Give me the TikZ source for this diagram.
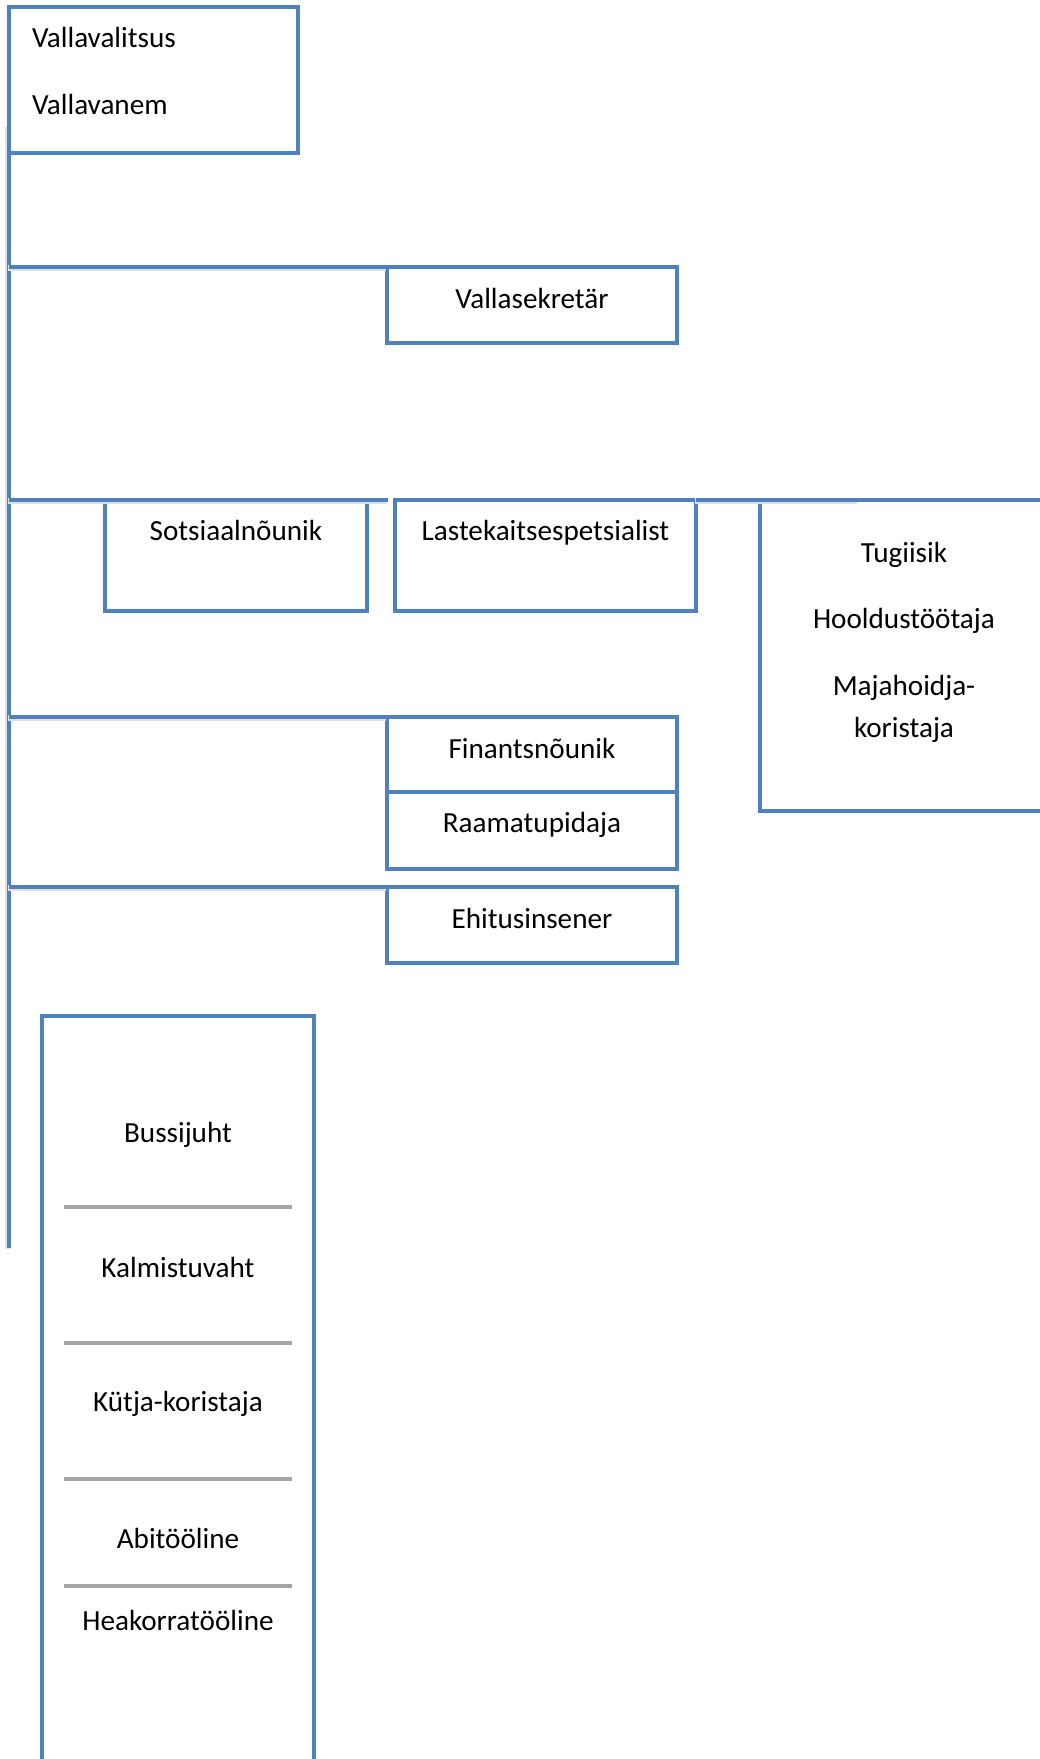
\documentclass[tikz,border=0pt]{standalone}
\usepackage{fontspec}
\setmainfont{Carlito}
\usetikzlibrary{positioning}
\definecolor{orgblue}{RGB}{79,129,189}
\definecolor{orggray}{RGB}{165,165,165}
\newcommand{\orgfont}{\fontsize{16.6}{20}\selectfont}
\tikzset{
  box/.style={draw=orgblue, line width=2.3pt, rectangle, inner sep=0pt, outer sep=0pt},
  conn/.style={draw=orgblue, line width=2.3pt,
    preaction={draw=black!12, line width=3.4pt, transform canvas={shift={(-0.4pt,-0.8pt)}}}},
  sepline/.style={draw=orggray, line width=2.3pt},
  lbl/.style={inner sep=0pt, outer sep=0pt, font=\orgfont},
}
\begin{document}
\begin{tikzpicture}[x=0.02cm, y=-0.02cm]
    \useasboundingbox (0,0) rectangle (1040,1759);

    \node[box, minimum width=5.78cm, minimum height=2.92cm, anchor=north west] (valitsus) at (9,7) {};
    \node[lbl, anchor=base west] (valitsus-t) at (32,47) {Vallavalitsus};
    \node[lbl, anchor=base west] (vanem-t) at (32,114) {Vallavanem};
    \coordinate (spine) at ([yshift=0.54cm]valitsus.south west);
    \coordinate (spine-end) at (9,1248);

    \node[box, minimum width=5.8cm, minimum height=1.52cm, anchor=north west] (sekretar) at (387,267) {};
    \node[lbl, anchor=base] (sekretar-t) at ([yshift=-0.82cm]sekretar.north) {Vallasekretär};

    \node[box, minimum width=5.24cm, minimum height=2.22cm, anchor=north west] (sotsiaal) at (105,500) {};
    \node[lbl, anchor=base] (sotsiaal-t) at ([yshift=-0.8cm]sotsiaal.north) {Sotsiaalnõunik};
    \node[box, minimum width=6.02cm, minimum height=2.22cm, anchor=north west] (lastekaitse) at (395,500) {};
    \node[lbl, anchor=base] (lastekaitse-t) at ([yshift=-0.8cm]lastekaitse.north) {Lastekaitsespetsialist};

    \node[box, minimum width=6cm, minimum height=6.22cm, anchor=north west] (tugi) at (760,500) {};
    \node[lbl, anchor=base] (tugi-t) at (904,562) {Tugiisik};
    \node[lbl, anchor=base] (hooldus-t) at (904,628) {Hooldustöötaja};
    \node[lbl, anchor=base] (maja-t) at (904,695) {Majahoidja-};
    \node[lbl, anchor=base] (koristaja-t) at (904,737) {koristaja};

    \node[box, minimum width=5.8cm, minimum height=1.5cm, anchor=north west] (finants) at (387,717) {};
    \node[lbl, anchor=base] (finants-t) at ([yshift=-0.82cm]finants.north) {Finantsnõunik};
    \node[box, minimum width=5.8cm, minimum height=1.54cm, below=0pt of finants] (raamat) {};
    \node[lbl, anchor=base] (raamat-t) at ([yshift=-0.82cm]raamat.north) {Raamatupidaja};

    \node[box, minimum width=5.8cm, minimum height=1.52cm, anchor=north west] (ehitus) at (387,887) {};
    \node[lbl, anchor=base] (ehitus-t) at ([yshift=-0.82cm]ehitus.north) {Ehitusinsener};

    \node[box, minimum width=5.44cm, minimum height=16cm, anchor=north west] (toolised) at (42,1016) {};
    \node[lbl, anchor=base] (buss-t) at (178,1142) {Bussijuht};
    \draw[sepline] (64,1207) -- (292,1207);
    \node[lbl, anchor=base] (kalmistu-t) at (178,1277) {Kalmistuvaht};
    \draw[sepline] (64,1343) -- (292,1343);
    \node[lbl, anchor=base] (kutja-t) at (178,1411) {Kütja-koristaja};
    \draw[sepline] (64,1479) -- (292,1479);
    \node[lbl, anchor=base] (abi-t) at (178,1548) {Abitööline};
    \draw[sepline] (64,1586) -- (292,1586);
    \node[lbl, anchor=base] (heakord-t) at (178,1630) {Heakorratööline};

    \draw[conn] (spine) -- (spine-end);
    \draw[conn] (spine |- sekretar.north) -- (sekretar.north west);
    \draw[conn] (spine |- sotsiaal.north) -- ([xshift=-0.14cm]lastekaitse.north west);
    \draw[conn] (lastekaitse.north east) -- ([xshift=1.96cm]tugi.north west);
    \draw[conn] (spine |- finants.north) -- (finants.north west);
    \draw[conn] (spine |- ehitus.north) -- (ehitus.north west);
\end{tikzpicture}
\end{document}
